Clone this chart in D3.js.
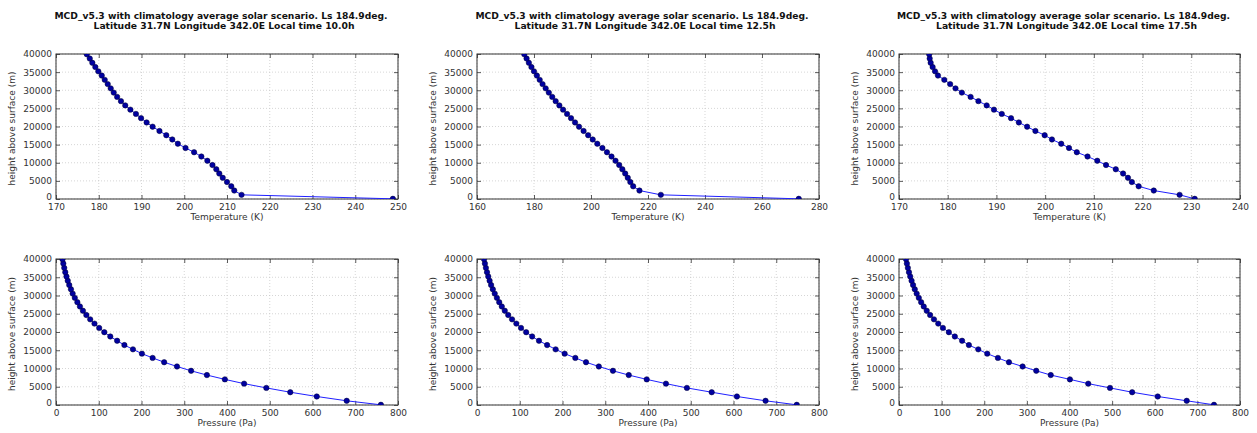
<!DOCTYPE html>
<html><head><meta charset="utf-8">
<script src="https://cdn.jsdelivr.net/npm/d3@7"></script>
<style>
body{margin:0;background:#fff;}
svg{display:block;font-family:"DejaVu Sans",sans-serif;}
</style></head><body>
<svg id="c" width="1257" height="433"></svg>
<script>
// ---- data ----
const heights = [50,1150,2330,3500,4680,5850,7020,8200,9370,10550,11720,12900,14070,15250,16420,17600,18770,19950,21120,22300,23470,24650,25820,27000,28170,29350,30520,31700,32870,34050,35220,36400,37570,38750,39920,41100];
const temp10 = [248.8,213.4,211.7,211.0,210.0,209.0,208.2,207.5,206.6,205.4,204.0,202.3,200.3,198.5,197.2,195.8,194.2,192.6,191.2,189.9,188.7,187.4,186.2,185.2,184.3,183.5,182.8,182.1,181.4,180.7,179.9,179.2,178.5,177.9,177.2,176.6];
const temp125 = [272.9,224.5,217.0,214.8,213.8,212.9,212.0,211.0,209.9,208.6,207.2,205.6,204.0,202.2,200.6,199.0,197.4,195.8,194.4,193.0,191.6,190.2,188.9,187.6,186.4,185.2,184.1,183.0,182.0,181.0,180.0,179.1,178.2,177.4,176.6,175.8];
const temp175 = [230.7,227.6,222.3,219.2,217.8,217.0,216.0,214.5,212.5,210.7,208.7,206.5,204.9,203.3,201.4,199.9,198.0,196.3,194.6,193.0,191.1,189.5,188.0,186.3,184.7,182.9,181.6,180.5,179.3,178.0,177.4,176.9,176.5,176.3,176.2,176.1];
const pres10 = [760,680,610,548,492,440,395,353,316,283,253,226,201,180,160,143,127,113,101,90,80,71,63,56,50,44,39,35,31,27.5,24.5,21.7,19.3,17.1,15.2,13.5];
const pres125 = [748,675,608,549,491,442,397,355,318,285,255,230,205,184,164,145,129,115,103,92,82,73,65,58,52,46.5,41.5,37,33,29.5,26.3,23.4,20.8,18.5,16.5,14.7];
const pres175 = [739,675,607,547,495,444,401,356,322,290,258,232,207,186,164,148,131,117,103,92,82,73,65,58,52,46.5,41.5,37,33,29.5,26.3,23.4,20.8,18.5,16.5,14.7];
const heightTicks = [0,5000,10000,15000,20000,25000,30000,35000,40000];
const tempTicks10 = [170,180,190,200,210,220,230,240,250];
const tempTicks125 = [160,180,200,220,240,260,280];
const tempTicks175 = [170,180,190,200,210,220,230,240];
const presTicks = [0,100,200,300,400,500,600,700,800];
const titleLine1 = "MCD_v5.3 with climatology average solar scenario. Ls 184.9deg.";
const titleLines2 = ["Latitude 31.7N Longitude 342.0E Local time 10.0h","Latitude 31.7N Longitude 342.0E Local time 12.5h","Latitude 31.7N Longitude 342.0E Local time 17.5h"];
const yLabel = "height above surface (m)";
const tLabel = "Temperature (K)";
const pLabel = "Pressure (Pa)";

// ---- layout ----
const cols = [{x:56,w:342},{x:477,w:342},{x:899,w:341}];
const rows = [{y:54,h:145},{y:259,h:146}];
const svg = d3.select("#c");

const panels = [
  {c:0,r:0,xs:temp10,dom:[170,250],ticks:tempTicks10,xl:tLabel},
  {c:1,r:0,xs:temp125,dom:[160,280],ticks:tempTicks125,xl:tLabel},
  {c:2,r:0,xs:temp175,dom:[170,240],ticks:tempTicks175,xl:tLabel},
  {c:0,r:1,xs:pres10,dom:[0,800],ticks:presTicks,xl:pLabel},
  {c:1,r:1,xs:pres125,dom:[0,800],ticks:presTicks,xl:pLabel},
  {c:2,r:1,xs:pres175,dom:[0,800],ticks:presTicks,xl:pLabel}
];

panels.forEach((p,i)=>{
  const C = cols[p.c], R = rows[p.r];
  const x = d3.scaleLinear().domain(p.dom).range([C.x, C.x+C.w]);
  const y = d3.scaleLinear().domain([0,40000]).range([R.y+R.h, R.y]);
  const g = svg.append("g");
  const cid = "clip"+i;
  svg.append("clipPath").attr("id",cid).append("rect")
    .attr("x",C.x).attr("y",R.y).attr("width",C.w).attr("height",R.h);
  // grid
  const grid = g.append("g").attr("stroke","#c4c4c4").attr("stroke-width",0.7).attr("stroke-dasharray","1,2");
  p.ticks.forEach(t=>grid.append("line").attr("x1",x(t)).attr("x2",x(t)).attr("y1",R.y).attr("y2",R.y+R.h));
  heightTicks.forEach(t=>grid.append("line").attr("x1",C.x).attr("x2",C.x+C.w).attr("y1",y(t)).attr("y2",y(t)));
  // axes with inward ticks
  const fmt = d3.format("d");
  const ax = g.append("g").attr("transform",`translate(0,${R.y+R.h})`)
    .call(d3.axisBottom(x).tickValues(p.ticks).tickFormat(fmt).tickSize(-4).tickPadding(5));
  const axT = g.append("g").attr("transform",`translate(0,${R.y})`)
    .call(d3.axisTop(x).tickValues(p.ticks).tickFormat("").tickSize(-4));
  const ay = g.append("g").attr("transform",`translate(${C.x},0)`)
    .call(d3.axisLeft(y).tickValues(heightTicks).tickFormat(fmt).tickSize(-4).tickPadding(4));
  const ayR = g.append("g").attr("transform",`translate(${C.x+C.w},0)`)
    .call(d3.axisRight(y).tickValues(heightTicks).tickFormat("").tickSize(-4));
  [ax,axT,ay,ayR].forEach(a=>{
    a.select(".domain").remove();
    a.selectAll("line").attr("stroke","#333").attr("stroke-width",0.8);
    a.selectAll("text").attr("fill","#333").style("font-size","9px").style("font-family","DejaVu Sans");
  });
  // lift the y "0" label slightly so it does not collide with the first x label
  ay.selectAll(".tick").filter(d=>d===0).select("text").attr("dy","0.05em");
  // frame
  g.append("rect").attr("x",C.x).attr("y",R.y).attr("width",C.w).attr("height",R.h)
    .attr("fill","none").attr("stroke","#333").attr("stroke-width",1);
  // data
  const pts = heights.map((h,k)=>({v:p.xs[k],h:h}));
  const dg = g.append("g").attr("clip-path",`url(#${cid})`);
  dg.append("path").datum(pts)
    .attr("d",d3.line().x(d=>x(d.v)).y(d=>y(d.h)))
    .attr("fill","none").attr("stroke","#2020ff").attr("stroke-width",1);
  dg.selectAll("circle").data(pts).join("circle")
    .attr("cx",d=>x(d.v)).attr("cy",d=>y(d.h)).attr("r",2.7)
    .attr("fill","#0000a0").attr("stroke","#000030").attr("stroke-width",0.5);
  // labels
  g.append("text").attr("x",C.x+C.w/2).attr("y",R.y+R.h+21).attr("text-anchor","middle")
    .attr("fill","#333").style("font-size","9px").text(p.xl);
  g.append("text").attr("transform",`translate(${C.x-41},${R.y+R.h/2+2}) rotate(-90)`)
    .attr("text-anchor","middle").attr("fill","#333").style("font-size","9px").text(yLabel);
  if(p.r===0){
    const cx = C.x+C.w/2;
    g.append("text").attr("x",cx-6).attr("y",18.5).attr("text-anchor","middle")
      .attr("fill","#111").style("font-size","9.3px").style("font-weight","bold")
      .attr("textLength",333).attr("lengthAdjust","spacingAndGlyphs").text(titleLine1);
    g.append("text").attr("x",cx-3).attr("y",28.5).attr("text-anchor","middle")
      .attr("fill","#111").style("font-size","9.3px").style("font-weight","bold")
      .attr("textLength",261).attr("lengthAdjust","spacingAndGlyphs").text(titleLines2[p.c]);
  }
});
</script></body></html>
